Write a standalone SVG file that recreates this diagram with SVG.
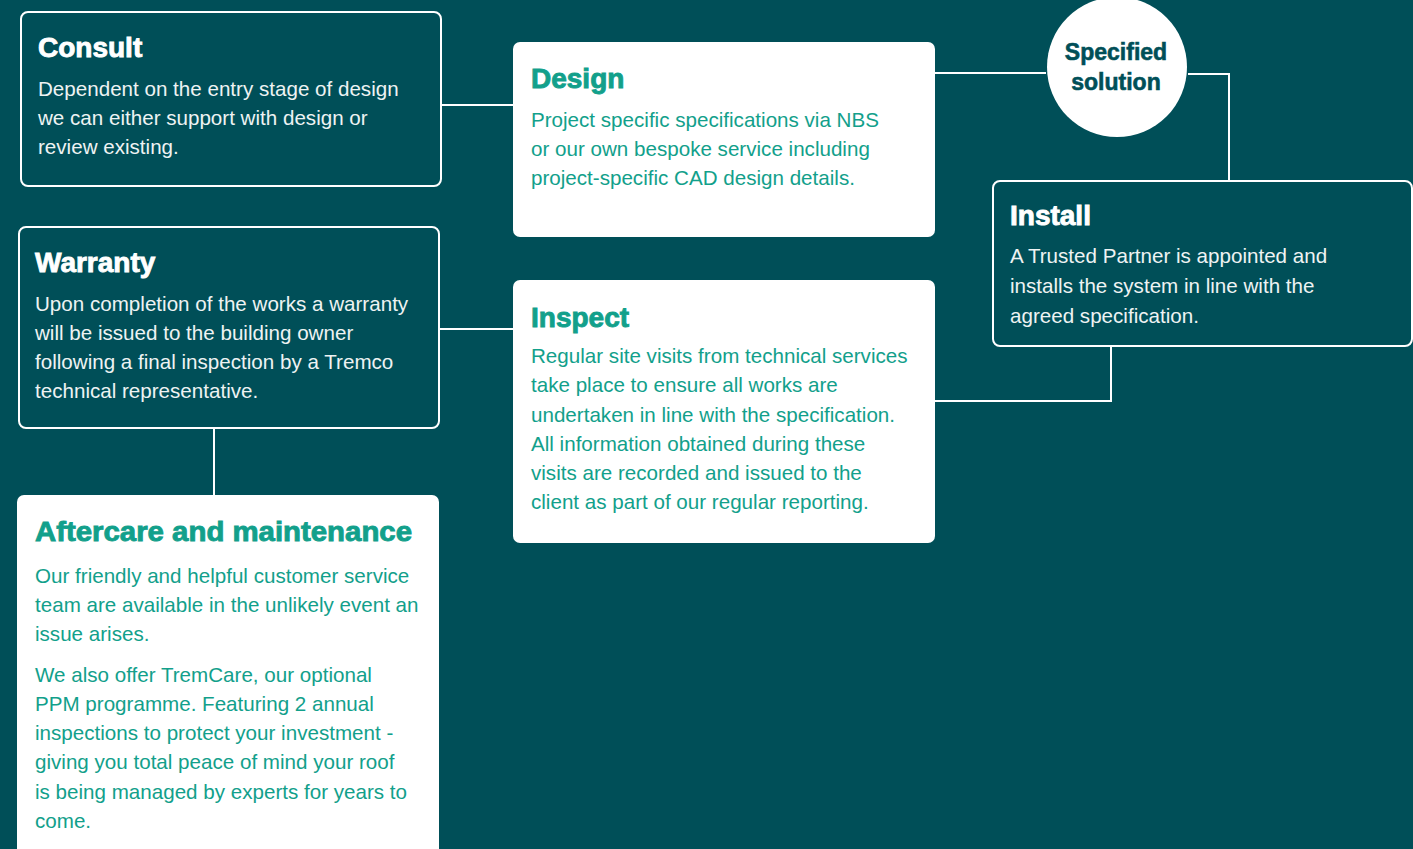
<svg xmlns="http://www.w3.org/2000/svg" width="1413" height="849" viewBox="0 0 1413 849">
<style>
.dark{fill:#004F58;stroke:#FFFFFF;stroke-width:2}
.light{fill:#FFFFFF}
.t{font-family:"Liberation Sans",Arial,sans-serif;font-weight:bold;font-size:28px;stroke-width:0.9px}
.b{font-family:"Liberation Sans",Arial,sans-serif;font-size:20.6px}
.w{fill:#FFFFFF}
.t.w{stroke:#FFFFFF}
.t.g{stroke:#12A08B}
.wb{fill:#EEF3F3}
.g{fill:#12A08B}
.c{fill:none;stroke:#FFFFFF;stroke-width:2}
.ct{font-family:"Liberation Sans",Arial,sans-serif;font-weight:bold;font-size:23px;fill:#004F58;stroke:#004F58;stroke-width:0.6px;text-anchor:middle}
</style>
<rect width="1413" height="849" fill="#004F58"/>
<g id="connectors">
<path class="c" d="M441 105 H513"/>
<path class="c" d="M935 73 H1046"/>
<path class="c" d="M1188 74 H1229 V181"/>
<path class="c" d="M1111 346 V401 H935"/>
<path class="c" d="M513 329 H440"/>
<path class="c" d="M214 428 V495"/>
</g>
<g id="consult">
<rect class="dark" x="21" y="12" width="420" height="174" rx="7"/>
<text class="t w" x="38" y="57">Consult</text>
<text class="b wb" x="38" y="96">Dependent on the entry stage of design</text>
<text class="b wb" x="38" y="125">we can either support with design or</text>
<text class="b wb" x="38" y="154">review existing.</text>
</g>
<g id="design">
<rect class="light" x="513" y="42" width="422" height="195" rx="7"/>
<text class="t g" x="531" y="88">Design</text>
<text class="b g" x="531" y="127">Project specific specifications via NBS</text>
<text class="b g" x="531" y="156">or our own bespoke service including</text>
<text class="b g" x="531" y="185">project-specific CAD design details.</text>
</g>
<g id="specified-solution">
<circle cx="1117" cy="67" r="70" fill="#FFFFFF"/>
<text class="ct" x="1116" y="60">Specified</text>
<text class="ct" x="1116" y="90">solution</text>
</g>
<g id="install">
<rect class="dark" x="993" y="181" width="419" height="165" rx="7"/>
<text class="t w" x="1010" y="225">Install</text>
<text class="b wb" x="1010" y="263">A Trusted Partner is appointed and</text>
<text class="b wb" x="1010" y="293">installs the system in line with the</text>
<text class="b wb" x="1010" y="323">agreed specification.</text>
</g>
<g id="inspect">
<rect class="light" x="513" y="280" width="422" height="263" rx="7"/>
<text class="t g" x="531" y="327">Inspect</text>
<text class="b g" x="531" y="363">Regular site visits from technical services</text>
<text class="b g" x="531" y="392">take place to ensure all works are</text>
<text class="b g" x="531" y="422">undertaken in line with the specification.</text>
<text class="b g" x="531" y="451">All information obtained during these</text>
<text class="b g" x="531" y="480">visits are recorded and issued to the</text>
<text class="b g" x="531" y="509">client as part of our regular reporting.</text>
</g>
<g id="warranty">
<rect class="dark" x="19" y="227" width="420" height="201" rx="7"/>
<text class="t w" x="35" y="272">Warranty</text>
<text class="b wb" x="35" y="311">Upon completion of the works a warranty</text>
<text class="b wb" x="35" y="340">will be issued to the building owner</text>
<text class="b wb" x="35" y="369">following a final inspection by a Tremco</text>
<text class="b wb" x="35" y="398">technical representative.</text>
</g>
<g id="aftercare">
<rect class="light" x="17" y="495" width="422" height="370" rx="7"/>
<text class="t g" x="35" y="541" textLength="377" lengthAdjust="spacingAndGlyphs">Aftercare and maintenance</text>
<text class="b g" x="35" y="583">Our friendly and helpful customer service</text>
<text class="b g" x="35" y="612">team are available in the unlikely event an</text>
<text class="b g" x="35" y="641">issue arises.</text>
<text class="b g" x="35" y="682">We also offer TremCare, our optional</text>
<text class="b g" x="35" y="711">PPM programme. Featuring 2 annual</text>
<text class="b g" x="35" y="740">inspections to protect your investment -</text>
<text class="b g" x="35" y="769">giving you total peace of mind your roof</text>
<text class="b g" x="35" y="799">is being managed by experts for years to</text>
<text class="b g" x="35" y="828">come.</text>
</g>
</svg>
